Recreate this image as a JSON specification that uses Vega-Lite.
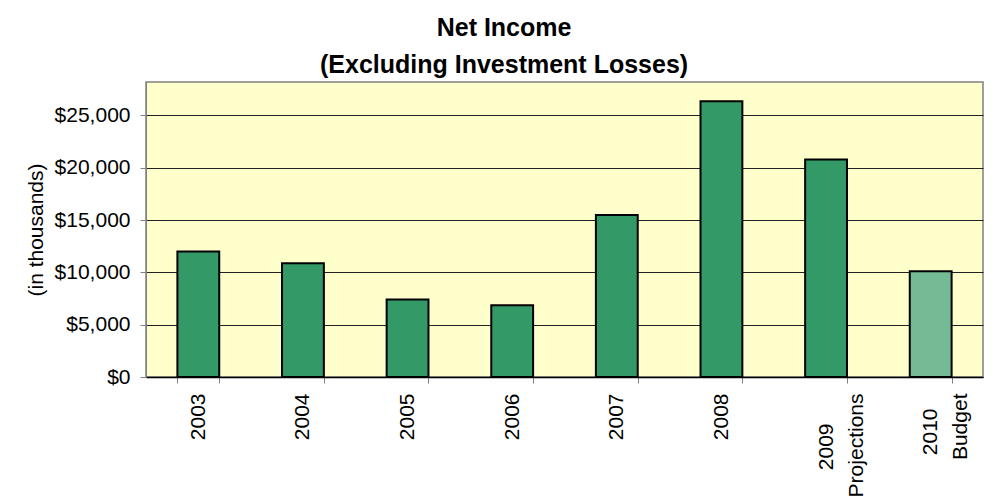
{
  "$schema": "https://vega.github.io/schema/vega-lite/v6.json",
  "autosize": {"type": "none"},
  "padding": {"left": 146, "top": 82, "right": 17, "bottom": 125},
  "width": 837,
  "height": 295,
  "background": "white",
  "title": {
    "text": ["Net Income", "(Excluding Investment Losses)"],
    "font": "Liberation Sans",
    "fontSize": 25,
    "fontWeight": "bold",
    "color": "#000000",
    "lineHeight": 37,
    "anchor": "middle",
    "frame": "bounds",
    "offset": 4
  },
  "data": {
    "values": [
      {"period": "2003", "income": 12000, "kind": "Actual"},
      {"period": "2004", "income": 10870, "kind": "Actual"},
      {"period": "2005", "income": 7420, "kind": "Actual"},
      {"period": "2006", "income": 6850, "kind": "Actual"},
      {"period": "2007", "income": 15480, "kind": "Actual"},
      {"period": "2008", "income": 26370, "kind": "Actual"},
      {"period": "2009 Projections", "income": 20780, "kind": "Actual"},
      {"period": "2010 Budget", "income": 10100, "kind": "Budget"}
    ]
  },
  "mark": {"type": "bar", "stroke": "#000000", "strokeWidth": 2},
  "encoding": {
    "x": {
      "field": "period",
      "type": "nominal",
      "sort": null,
      "scale": {"paddingInner": 0.6, "paddingOuter": 0.3},
      "axis": {
        "title": null,
        "labelAngle": -90,
        "labelExpr": "datum.value == '2009 Projections' ? ['2009\u2800\u2800', 'Projections'] : datum.value == '2010 Budget' ? ['2010\u2800', 'Budget'] : datum.label",
        "labelFont": "Liberation Sans",
        "labelFontSize": 21,
        "labelColor": "#000000",
        "labelLineHeight": 30,
        "labelPadding": 10,
        "tickBand": "extent",
        "tickSize": 6,
        "tickColor": "#808080",
        "domainColor": "#000000",
        "domainWidth": 1.5,
        "grid": false
      }
    },
    "y": {
      "field": "income",
      "type": "quantitative",
      "scale": {"domain": [0, 28200], "nice": false},
      "axis": {
        "title": "(in thousands)",
        "titleFont": "Liberation Sans",
        "titleFontSize": 21,
        "titleFontWeight": "normal",
        "titleColor": "#000000",
        "titlePadding": 8,
        "values": [0, 5000, 10000, 15000, 20000, 25000],
        "format": "$,.0f",
        "labelFont": "Liberation Sans",
        "labelFontSize": 21,
        "labelColor": "#000000",
        "labelPadding": 10,
        "tickSize": 6,
        "tickColor": "#808080",
        "domainColor": "#808080",
        "grid": true,
        "gridColor": "#222222",
        "gridWidth": 1
      }
    },
    "color": {
      "field": "kind",
      "type": "nominal",
      "scale": {"domain": ["Actual", "Budget"], "range": ["#339966", "#74BA94"]},
      "legend": null
    }
  },
  "config": {
    "view": {"fill": "#FFFFCC", "stroke": "#808080", "strokeWidth": 1.5}
  }
}
